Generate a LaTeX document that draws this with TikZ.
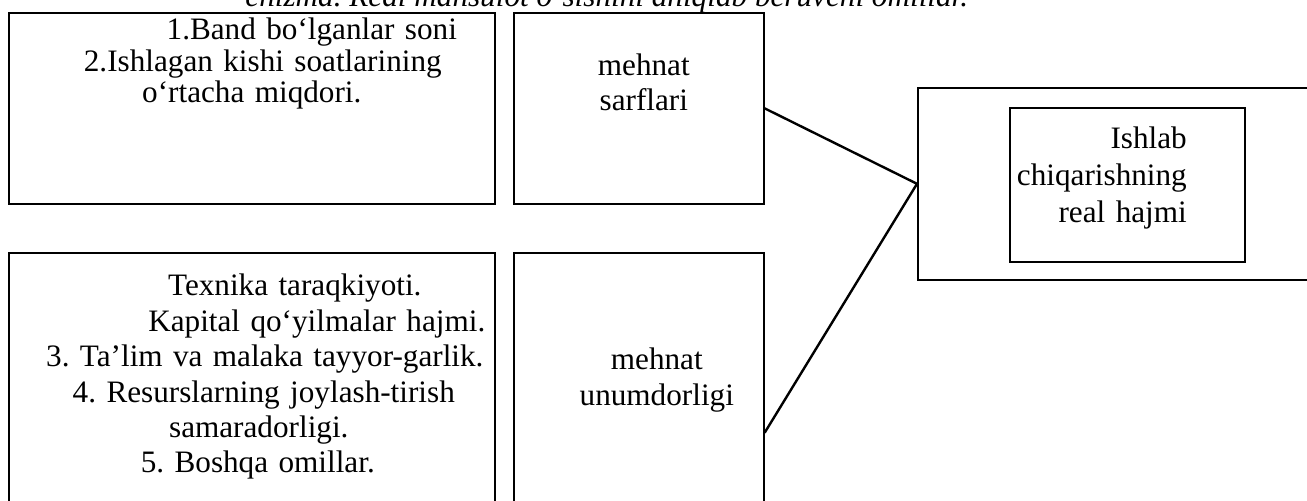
\documentclass[tikz,border=0pt]{standalone}
\usepackage{fontspec}
\setmainfont{Liberation Serif}
\usepackage{tikz}
\frenchspacing
\tikzstyle{factorbox}=[rectangle, draw=black, line width=0.8pt, anchor=north west, inner xsep=0pt, inner ysep=0pt, align=center]
\tikzstyle{line} = [draw=black, line width=1.2pt]

\begin{document}
\begin{tikzpicture} [x=0.5pt, y=-0.5pt]
			\useasboundingbox (0,0) rectangle (1307,500);
			
			\node (caption) [anchor=base west, inner sep=0pt, font=\fontsize{15.6}{18}\selectfont\itshape] at (245,6) {chizma. Real mahsulot o`sishini aniqlab beruvchi omillar.};
			
			\node (employment) [factorbox, text width=243pt, text height=13.5pt, text depth=82pt, font=\fontsize{15.6}{15.75}\selectfont] at (8,12) {
				\hspace*{60pt}1.Band bo`lganlar soni\\
				\hspace*{11pt}2.Ishlagan kishi soatlarining\\
				o`rtacha miqdori.};
			\node (mehnat sarflari) [factorbox, text width=125pt, text height=31.5pt, text depth=64pt, font=\fontsize{15.6}{17.5}\selectfont] at (513,12) {
				\hspace*{5pt}mehnat\\
				\hspace*{5pt}sarflari};
			
			\node (otherFactors) [factorbox, text width=243pt, text height=21.5pt, text depth=112.5pt, font=\fontsize{15.6}{17.7}\selectfont] at (8,252) {
				\hspace*{43pt}Texnika taraqkiyoti.\\
				\hspace*{65pt}Kapital qo`yilmalar hajmi.\\
				\hspace*{13pt}3. Ta'lim va malaka tayyor-garlik.\\
				\hspace*{12pt}4. Resurslarning joylash-tirish\\
				\hspace*{7pt}samaradorligi.\\
				\hspace*{6pt}5. Boshqa omillar.};
			\node (mehnat unumdorligi) [factorbox, text width=125pt, text height=58.5pt, text depth=75.5pt, font=\fontsize{15.6}{18}\selectfont] at (513,252) {
				\hspace*{18pt}mehnat\\
				\hspace*{18pt}unumdorligi};
			
			\node (realOutput) [factorbox, minimum width=206.5pt, minimum height=96pt] at (917,87) {};
			\node (real hajmi) [factorbox, align=right, text width=117.5pt, text height=20.5pt, text depth=56.5pt, font=\fontsize{15.6}{18.5}\selectfont] at (1009,107) {
				Ishlab\makebox[29pt]{}\\
				chiqarishning\makebox[29pt]{}\\
				real hajmi\makebox[29pt]{}};
			
			\draw [line] (mehnat sarflari.east) -- (realOutput.west);
			\draw [line] ([yshift=-23pt]mehnat unumdorligi.east) -- (realOutput.west);
			
			\end{tikzpicture}
\end{document}
